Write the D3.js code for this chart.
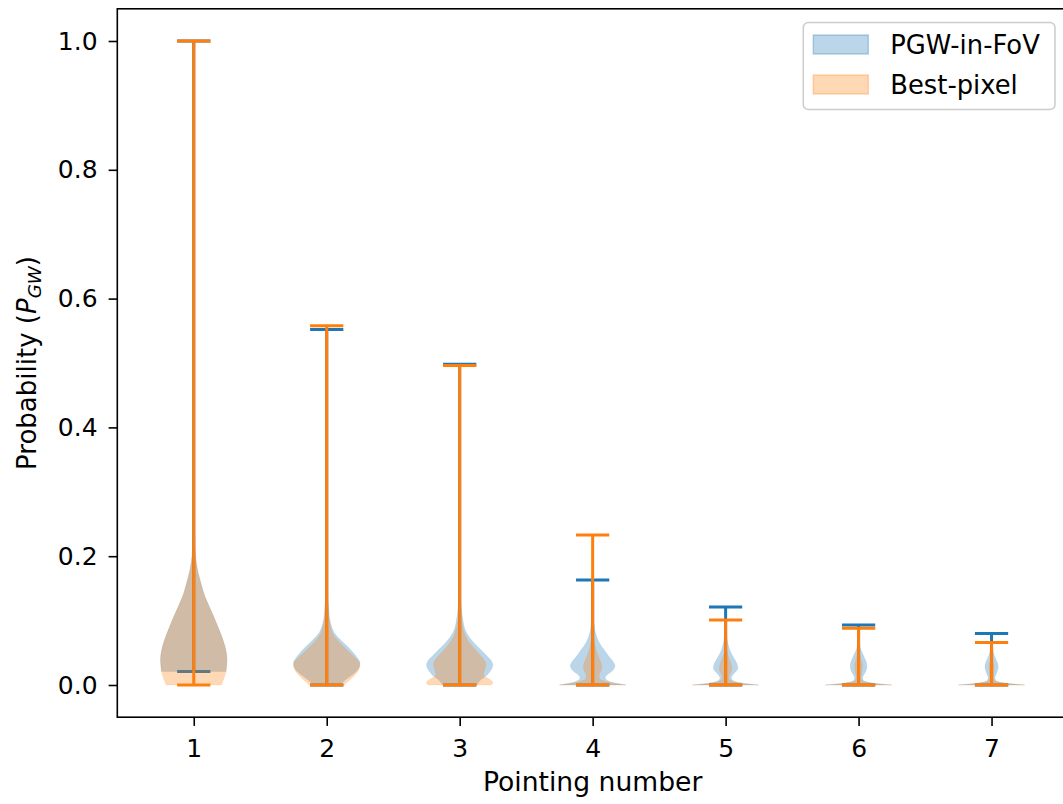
<!DOCTYPE html>
<html>
<head>
<meta charset="utf-8">
<script src="https://cdn.jsdelivr.net/npm/d3@7"></script>
<style>
  body { margin: 0; background: #fff; }
  svg { display: block; font-family: 'DejaVu Sans', sans-serif; }
  .tick text { font-size: 25px; fill: #000; }
  .tick line { stroke: #000; stroke-width: 1.6px; }
</style>
</head>
<body>
<div id="chart"></div>
<script>
const pointings = [1, 2, 3, 4, 5, 6, 7]

const seriesNames = ['PGW-in-FoV', 'Best-pixel']

// extrema per pointing
const pgwMin = [0.021, 0, 0, 0, 0, 0, 0]
const pgwMax = [1.0, 0.552, 0.498, 0.163, 0.121, 0.093, 0.080]
const bestMin = [0, 0, 0, 0, 0, 0, 0]
const bestMax = [1.0, 0.558, 0.496, 0.233, 0.101, 0.088, 0.066]

// violin outlines: [probability, relative half width]
const pgwShapes = [
  [[0.021, 0.97], [0.03, 0.99], [0.04, 1.0], [0.05, 0.98], [0.06, 0.94], [0.07, 0.88], [0.085, 0.77], [0.1, 0.65], [0.112, 0.55], [0.125, 0.44], [0.137, 0.34], [0.15, 0.26], [0.163, 0.19], [0.175, 0.13], [0.189, 0.08], [0.2, 0.055], [0.21, 0.04], [0.23, 0.025], [0.27, 0.012], [0.35, 0.007], [0.5, 0.004], [0.7, 0.002], [1.0, 0.001]],
  [[0, 0.42], [0.005, 0.5], [0.01, 0.62], [0.015, 0.75], [0.02, 0.87], [0.025, 0.95], [0.03, 0.99], [0.035, 1.0], [0.04, 0.95], [0.05, 0.8], [0.06, 0.62], [0.07, 0.42], [0.08, 0.24], [0.09, 0.15], [0.1, 0.1], [0.12, 0.06], [0.14, 0.03], [0.2, 0.012], [0.3, 0.006], [0.552, 0.002]],
  [[0, 0.52], [0.005, 0.58], [0.01, 0.68], [0.015, 0.82], [0.02, 0.9], [0.025, 0.96], [0.031, 1.0], [0.037, 0.96], [0.045, 0.82], [0.055, 0.63], [0.065, 0.44], [0.075, 0.28], [0.085, 0.17], [0.1, 0.1], [0.12, 0.05], [0.15, 0.02], [0.25, 0.008], [0.498, 0.002]],
  [[0, 1.0], [0.002, 0.8], [0.004, 0.6], [0.007, 0.45], [0.011, 0.38], [0.015, 0.42], [0.02, 0.55], [0.025, 0.64], [0.03, 0.67], [0.036, 0.62], [0.045, 0.48], [0.055, 0.34], [0.065, 0.21], [0.075, 0.12], [0.085, 0.07], [0.1, 0.035], [0.12, 0.015], [0.163, 0.004]],
  [[0, 1.0], [0.002, 0.65], [0.004, 0.4], [0.007, 0.22], [0.011, 0.17], [0.016, 0.22], [0.021, 0.31], [0.026, 0.37], [0.032, 0.35], [0.04, 0.27], [0.05, 0.16], [0.06, 0.09], [0.07, 0.05], [0.085, 0.025], [0.121, 0.005]],
  [[0, 1.0], [0.002, 0.6], [0.004, 0.33], [0.007, 0.15], [0.011, 0.12], [0.017, 0.17], [0.023, 0.23], [0.028, 0.25], [0.034, 0.24], [0.042, 0.18], [0.05, 0.11], [0.058, 0.05], [0.07, 0.02], [0.093, 0.004]],
  [[0, 1.0], [0.002, 0.58], [0.004, 0.3], [0.007, 0.13], [0.011, 0.1], [0.017, 0.14], [0.023, 0.18], [0.028, 0.2], [0.034, 0.18], [0.041, 0.12], [0.05, 0.06], [0.06, 0.025], [0.08, 0.004]]
]

const bestShapes = [
  [[0, 0.83], [0.005, 0.87], [0.01, 0.91], [0.015, 0.94], [0.021, 0.97], [0.03, 0.99], [0.04, 1.0], [0.05, 0.98], [0.06, 0.94], [0.07, 0.88], [0.085, 0.77], [0.1, 0.65], [0.112, 0.55], [0.125, 0.44], [0.137, 0.34], [0.15, 0.26], [0.163, 0.19], [0.175, 0.13], [0.189, 0.08], [0.2, 0.055], [0.21, 0.04], [0.23, 0.025], [0.27, 0.012], [0.35, 0.007], [0.5, 0.004], [0.7, 0.002], [1.0, 0.001]],
  [[0, 0.52], [0.005, 0.63], [0.01, 0.75], [0.015, 0.84], [0.02, 0.92], [0.025, 0.97], [0.03, 1.0], [0.035, 0.98], [0.04, 0.9], [0.05, 0.7], [0.06, 0.5], [0.07, 0.32], [0.08, 0.18], [0.09, 0.12], [0.1, 0.08], [0.12, 0.04], [0.2, 0.01], [0.558, 0.002]],
  [[0, 0.95], [0.004, 1.0], [0.008, 0.92], [0.012, 0.8], [0.016, 0.72], [0.022, 0.74], [0.028, 0.78], [0.033, 0.79], [0.04, 0.72], [0.05, 0.55], [0.06, 0.38], [0.07, 0.24], [0.08, 0.15], [0.1, 0.06], [0.12, 0.03], [0.2, 0.01], [0.496, 0.002]],
  [[0, 1.0], [0.002, 0.75], [0.004, 0.5], [0.007, 0.3], [0.011, 0.2], [0.016, 0.2], [0.022, 0.25], [0.028, 0.28], [0.035, 0.25], [0.045, 0.17], [0.055, 0.1], [0.07, 0.05], [0.1, 0.02], [0.15, 0.008], [0.233, 0.002]],
  [[0, 1.0], [0.002, 0.6], [0.004, 0.33], [0.007, 0.16], [0.011, 0.1], [0.016, 0.12], [0.021, 0.17], [0.026, 0.19], [0.032, 0.17], [0.04, 0.11], [0.05, 0.05], [0.06, 0.025], [0.101, 0.004]],
  [[0, 1.0], [0.002, 0.55], [0.004, 0.28], [0.007, 0.1], [0.011, 0.07], [0.018, 0.09], [0.025, 0.11], [0.03, 0.12], [0.037, 0.09], [0.045, 0.05], [0.055, 0.02], [0.088, 0.003]],
  [[0, 1.0], [0.002, 0.55], [0.004, 0.27], [0.007, 0.09], [0.011, 0.06], [0.018, 0.07], [0.025, 0.08], [0.03, 0.08], [0.037, 0.05], [0.045, 0.025], [0.066, 0.003]]
]

const yTicks = [0, 0.2, 0.4, 0.6, 0.8, 1.0]

const width = 1063
const height = 804
const colors = ['#1f77b4', '#ff7f0e']
const violinWidth = 0.5

const svg = d3.select('#chart')
  .append('svg')
  .attr('width', width)
  .attr('height', height)

const x = d3.scaleLinear().domain([0.425, 7.575]).range([117.3, 1068])
const y = d3.scaleLinear().domain([-0.05, 1.05]).range([717.2, 8.8])

const halfW = x(1 + violinWidth / 2) - x(1)
const capW = halfW / 2

const series = [
  { shapes: pgwShapes, mins: pgwMin, maxs: pgwMax, color: colors[0] },
  { shapes: bestShapes, mins: bestMin, maxs: bestMax, color: colors[1] }
]

const plot = svg.append('g')

series.forEach(s => {
  // bodies
  plot.append('g').selectAll('path')
    .data(pointings)
    .join('path')
    .attr('d', (p, i) => d3.area()
      .curve(d3.curveMonotoneY)
      .y(d => y(d[0]))
      .x0(d => x(p) - d[1] * halfW)
      .x1(d => x(p) + d[1] * halfW)(s.shapes[i]))
    .attr('fill', s.color)
    .attr('fill-opacity', 0.3)
    .attr('stroke', s.color)
    .attr('stroke-opacity', 0.15)
    .attr('stroke-width', 0.6)

  const lines = plot.append('g')
    .attr('stroke', s.color)
    .attr('stroke-width', 3)

  // maxes, mins, bars
  lines.selectAll('.cmax').data(pointings).join('line')
    .attr('class', 'cmax')
    .attr('x1', p => x(p) - capW).attr('x2', p => x(p) + capW)
    .attr('y1', (p, i) => y(s.maxs[i])).attr('y2', (p, i) => y(s.maxs[i]))
  lines.selectAll('.cmin').data(pointings).join('line')
    .attr('class', 'cmin')
    .attr('x1', p => x(p) - capW).attr('x2', p => x(p) + capW)
    .attr('y1', (p, i) => y(s.mins[i])).attr('y2', (p, i) => y(s.mins[i]))
  lines.selectAll('.cbar').data(pointings).join('line')
    .attr('class', 'cbar')
    .attr('x1', p => x(p)).attr('x2', p => x(p))
    .attr('y1', (p, i) => y(s.mins[i])).attr('y2', (p, i) => y(s.maxs[i]))
})

// axes
const yAxis = svg.append('g')
  .attr('transform', `translate(${x.range()[0]},0)`)
  .call(d3.axisLeft(y).tickValues(yTicks).tickFormat(d3.format('.1f')).tickSize(8.7).tickPadding(11))
yAxis.select('.domain').remove()
yAxis.selectAll('text').attr('font-family', 'DejaVu Sans')

const xAxis = svg.append('g')
  .attr('transform', `translate(0,${y.range()[0]})`)
  .call(d3.axisBottom(x).tickValues(pointings).tickFormat(d3.format('d')).tickSize(8.7).tickPadding(13))
xAxis.select('.domain').remove()
xAxis.selectAll('text').attr('font-family', 'DejaVu Sans')

// frame
svg.append('rect')
  .attr('x', x.range()[0])
  .attr('y', y.range()[1])
  .attr('width', x.range()[1] - x.range()[0])
  .attr('height', y.range()[0] - y.range()[1])
  .attr('fill', 'none')
  .attr('stroke', '#000')
  .attr('stroke-width', 1.6)

svg.append('text')
  .attr('x', (x.range()[0] + x.range()[1]) / 2)
  .attr('y', 791)
  .attr('text-anchor', 'middle')
  .attr('font-size', 26.6)
  .text('Pointing number')

const ylab = svg.append('text')
  .attr('transform', `translate(36,${(y.range()[0] + y.range()[1]) / 2}) rotate(-90)`)
  .attr('text-anchor', 'middle')
  .attr('font-size', 26)
ylab.append('tspan').text('Probability (')
ylab.append('tspan').attr('font-style', 'italic').text('P')
ylab.append('tspan').attr('font-style', 'italic').attr('font-size', 18.2).attr('dy', 5).text('GW')
ylab.append('tspan').attr('dy', -5).text(')')

// legend
const legend = svg.append('g')
legend.append('rect')
  .attr('x', 803.3).attr('y', 22.5)
  .attr('width', 251.7).attr('height', 87)
  .attr('rx', 5)
  .attr('fill', '#fff').attr('fill-opacity', 0.8)
  .attr('stroke', '#cccccc').attr('stroke-width', 1.5)

const items = legend.selectAll('g.item')
  .data(seriesNames)
  .join('g')
  .attr('class', 'item')
  .attr('transform', (d, i) => `translate(813.3,${35 + i * 40})`)
items.append('rect')
  .attr('width', 55).attr('height', 19)
  .attr('fill', (d, i) => colors[i]).attr('fill-opacity', 0.3)
  .attr('stroke', (d, i) => colors[i]).attr('stroke-opacity', 0.3)
  .attr('stroke-width', 1.5)
items.append('text')
  .attr('x', 77).attr('y', 18.5)
  .attr('font-size', 25.8)
  .text(d => d)
</script>
</body>
</html>
